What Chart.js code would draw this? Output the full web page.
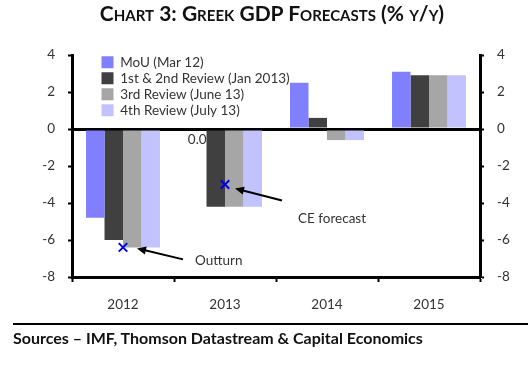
<!DOCTYPE html>
<html>
<head>
<meta charset="utf-8">
<script src="https://cdn.jsdelivr.net/npm/chart.js@4/dist/chart.umd.min.js"></script>
<style>
  body { margin: 0; background: #fff; }
  #wrap { position: relative; width: 528px; height: 365px; }
  #chart { position: absolute; left: 0; top: 0; }
  #title {
    position: absolute; left: 0; width: 544px; top: 0px;
    text-align: center; font: bold 21px Lato, sans-serif;
    font-variant: small-caps; color: #111;
  }
  #sources {
    position: absolute; left: 13px; right: 0; top: 323px;
    border-top: 2px solid #000; padding-top: 3px;
    font: bold 16px Lato, sans-serif; color: #111;
  }
</style>
</head>
<body>
<div id="wrap">
  <canvas id="chart" width="528" height="365"></canvas>
  <div id="title">Chart 3: Greek GDP Forecasts (% y/y)</div>
  <div id="sources">Sources – IMF, Thomson Datastream &amp; Capital Economics</div>
</div>
<script>
const years = ["2012", "2013", "2014", "2015"];
const seriesNames = ["MoU (Mar 12)", "1st & 2nd Review (Jan 2013)", "3rd Review (June 13)", "4th Review (July 13)"];
const mou = [-4.8, 0.0, 2.5, 3.1];
const review12 = [-6.0, -4.2, 0.6, 2.9];
const review3 = [-6.4, -4.2, -0.6, 2.9];
const review4 = [-6.4, -4.2, -0.6, 2.9];
const markers = [-6.4, -3.0, null, null];
const markerNotes = ["Outturn", "CE forecast"];
const yTicks = [-8, -6, -4, -2, 0, 2, 4];

const barColors = ["#8080ff", "#404040", "#a6a6a6", "#c2c2ff"];
const textColor = "#333";
const font = { family: "Lato, sans-serif", size: 13.5 };

// callout offsets from each marker: arrow tip, arrow tail, text start
const calloutStyle = [
  { tip: [14, 1], tail: [60, 12], text: [72, 13] },
  { tip: [10, 4], tail: [57, 16], text: [73, 34] }
];

function drawArrow(ctx, x1, y1, x2, y2) {
  const angle = Math.atan2(y2 - y1, x2 - x1);
  const head = 9;
  ctx.beginPath();
  ctx.moveTo(x1, y1);
  ctx.lineTo(x2 - Math.cos(angle) * head * 0.8, y2 - Math.sin(angle) * head * 0.8);
  ctx.stroke();
  ctx.beginPath();
  ctx.moveTo(x2, y2);
  ctx.lineTo(x2 - head * Math.cos(angle) + 4 * Math.sin(angle), y2 - head * Math.sin(angle) - 4 * Math.cos(angle));
  ctx.lineTo(x2 - head * Math.cos(angle) - 4 * Math.sin(angle), y2 - head * Math.sin(angle) + 4 * Math.cos(angle));
  ctx.closePath();
  ctx.fill();
}

const notesPlugin = {
  id: "notes",
  afterLayout(chart) {
    // legend sits inside the plot, near the top-left corner
    const legend = chart.legend;
    const area = chart.chartArea;
    if (legend) {
      legend.left = area.left + 27;
      legend.top = area.top - 2;
      legend.bottom = area.bottom;
    }
  },
  afterDraw(chart) {
    const ctx = chart.ctx;
    ctx.save();
    ctx.font = `${font.size}px ${font.family}`;
    ctx.fillStyle = textColor;
    ctx.strokeStyle = "#000";
    ctx.lineWidth = 2;

    // value label on the zero MoU bar
    const bar = chart.getDatasetMeta(0).data[1];
    ctx.textAlign = "center";
    ctx.textBaseline = "middle";
    ctx.fillText(mou[1].toFixed(1), bar.x, bar.y + 11);

    const points = chart.getDatasetMeta(4).data;
    ctx.textAlign = "left";
    markerNotes.forEach((label, i) => {
      const p = points[i];
      const s = calloutStyle[i];
      ctx.fillStyle = "#000";
      drawArrow(ctx, p.x + s.tail[0], p.y + s.tail[1], p.x + s.tip[0], p.y + s.tip[1]);
      ctx.fillStyle = textColor;
      ctx.fillText(label, p.x + s.text[0], p.y + s.text[1]);
    });
    ctx.restore();
  }
};

const barSets = [mou, review12, review3, review4].map((values, i) => ({
  type: "bar",
  label: seriesNames[i],
  data: values,
  backgroundColor: barColors[i],
  borderWidth: 0,
  yAxisID: "y",
  categoryPercentage: 0.725,
  barPercentage: 1.0
}));

new Chart(document.getElementById("chart"), {
  type: "bar",
  data: {
    labels: years,
    datasets: [
      ...barSets,
      {
        type: "line",
        label: "Markers",
        data: markers,
        showLine: false,
        pointStyle: "crossRot",
        pointRadius: 6,
        pointBorderWidth: 2,
        pointBorderColor: "#0000e0",
        pointBackgroundColor: "#0000e0",
        yAxisID: "y",
        order: -1
      }
    ]
  },
  options: {
    responsive: false,
    animation: false,
    layout: { padding: { top: 55, left: 0, right: 0, bottom: 48 } },
    plugins: {
      tooltip: { enabled: false },
      legend: {
        position: "chartArea",
        align: "start",
        labels: {
          boxWidth: 12,
          boxHeight: 12,
          padding: 2.5,
          color: textColor,
          font: font,
          filter: (item) => item.datasetIndex < 4
        }
      }
    },
    scales: {
      x: {
        grid: { offset: true, drawOnChartArea: false, tickLength: 5, tickColor: "#000", tickWidth: 2 },
        border: { color: "#000", width: 3 },
        ticks: { color: textColor, font: font, padding: 15 },
        afterFit: (scale) => { scale.height = 40; }
      },
      y: {
        position: "left",
        min: -8,
        max: 4,
        z: 1,
        afterBuildTicks: (scale) => { scale.ticks = yTicks.map((v) => ({ value: v })); },
        ticks: { color: textColor, font: font, padding: 13 },
        grid: {
          color: (c) => (c.tick && c.tick.value === 0 ? "#000" : "rgba(0,0,0,0)"),
          lineWidth: 3,
          tickColor: "#000",
          tickWidth: 2,
          tickLength: 4
        },
        border: { color: "#000", width: 3 },
        afterFit: (scale) => { scale.width = 72; }
      },
      y2: {
        type: "linear",
        position: "right",
        min: -8,
        max: 4,
        afterBuildTicks: (scale) => { scale.ticks = yTicks.map((v) => ({ value: v })); },
        ticks: { color: textColor, font: font, padding: 13 },
        grid: { drawOnChartArea: false, tickColor: "#000", tickWidth: 2, tickLength: 4 },
        border: { color: "#000", width: 3 },
        afterFit: (scale) => { scale.width = 48; }
      }
    }
  },
  plugins: [notesPlugin]
});
</script>
</body>
</html>
